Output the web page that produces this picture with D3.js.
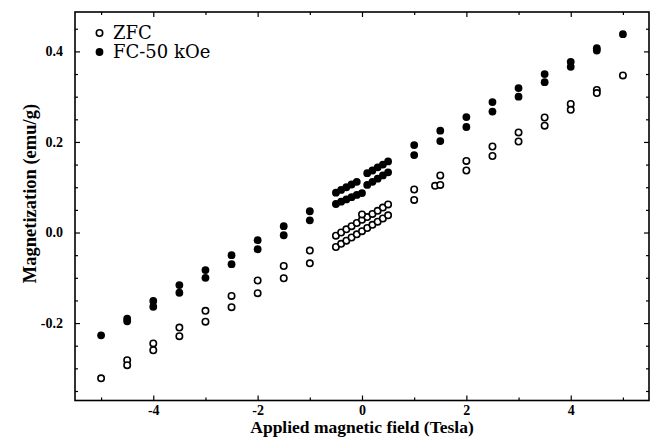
<!DOCTYPE html>
<html>
<head>
<meta charset="utf-8">
<script src="https://cdn.jsdelivr.net/npm/d3@7"></script>
<style>
  html, body { margin: 0; padding: 0; background: #fff; }
  svg { display: block; }
  .tick-label { font-family: "Liberation Serif", "Times New Roman", serif; font-weight: bold; font-size: 14px; fill: #000; }
  .axis-title { font-family: "Liberation Serif", "Times New Roman", serif; font-weight: bold; font-size: 17.5px; fill: #000; }
  .legend-text { font-family: "DejaVu Serif", serif; font-size: 18px; fill: #000; }
</style>
</head>
<body>
<svg id="chart" width="653" height="437"></svg>
<script>
// ---- Data ----
const fieldZFC = [-5, -4.5, -4.5, -4, -4, -3.5, -3.5, -3, -3, -2.5, -2.5, -2, -2, -1.5, -1.5, -1, -1,
  -0.5, -0.4, -0.3, -0.2, -0.1, 0.0, 0.1, 0.2, 0.3, 0.4, 0.5,
  -0.5, -0.4, -0.3, -0.2, -0.1, 0.0, 0.1, 0.2, 0.3, 0.4, 0.5,
  0.0,
  1, 1, 1.4, 1.5, 1.5, 2, 2, 2.5, 2.5, 3, 3, 3.5, 3.5, 4, 4, 4.5, 4.5, 5];
const magZFC = [-0.322, -0.282, -0.293, -0.245, -0.260, -0.210, -0.229, -0.173, -0.197, -0.140, -0.165, -0.106, -0.134, -0.074, -0.101, -0.040, -0.068,
  -0.032, -0.025, -0.018, -0.011, -0.004, 0.003, 0.010, 0.017, 0.024, 0.031, 0.038,
  -0.007, 0.000, 0.007, 0.014, 0.021, 0.028, 0.034, 0.041, 0.048, 0.055, 0.062,
  0.040,
  0.095, 0.072, 0.103, 0.126, 0.105, 0.158, 0.137, 0.190, 0.169, 0.221, 0.201, 0.254, 0.236, 0.284, 0.271, 0.315, 0.308, 0.347];

const fieldFC = [-5, -4.5, -4.5, -4, -4, -3.5, -3.5, -3, -3, -2.5, -2.5, -2, -2, -1.5, -1.5, -1, -1,
  -0.5, -0.4, -0.3, -0.2, -0.1,
  -0.5, -0.4, -0.3, -0.2, -0.1, 0.0,
  0.1, 0.2, 0.3, 0.4, 0.5,
  0.1, 0.2, 0.3, 0.4, 0.5,
  1, 1, 1.5, 1.5, 2, 2, 2.5, 2.5, 3, 3, 3.5, 3.5, 4, 4, 4.5, 4.5, 5];
const magFC = [-0.227, -0.190, -0.196, -0.151, -0.164, -0.116, -0.133, -0.083, -0.100, -0.050, -0.070, -0.017, -0.037, 0.014, -0.006, 0.047, 0.027,
  0.088, 0.094, 0.100, 0.106, 0.112,
  0.063, 0.068, 0.073, 0.078, 0.083, 0.087,
  0.131, 0.137, 0.144, 0.150, 0.157,
  0.105, 0.112, 0.119, 0.126, 0.133,
  0.193, 0.171, 0.225, 0.202, 0.255, 0.233, 0.288, 0.267, 0.319, 0.300, 0.350, 0.332, 0.377, 0.366, 0.407, 0.402, 0.438];

const xMajorTicks = [-4, -2, 0, 2, 4];
const xMinorTicks = [-5, -3, -1, 1, 3, 5];
const yMajorTicks = [-0.2, 0.0, 0.2, 0.4];
const yMinorTicks = [-0.35, -0.3, -0.25, -0.15, -0.1, -0.05, 0.05, 0.1, 0.15, 0.25, 0.3, 0.35, 0.45];
const legendLabels = ["ZFC", "FC-50 kOe"];
const xTitle = "Applied magnetic field (Tesla)";
const yTitle = "Magnetization (emu/g)";

// ---- Layout ----
const pLeft = 75, pRight = 649, pTop = 12, pBottom = 400.5;
const svg = d3.select("#chart");

const x = d3.scaleLinear().domain([-5.5, 5.5]).range([pLeft, pRight]);
const y = d3.scaleLinear().domain([-0.371, 0.487]).range([pBottom, pTop]);

const fmtY = d => d3.format(".1f")(d).replace("\u2212", "-");
const fmtX = d => String(d);

// Axes (ticks pointing inward on all four sides)
function addAxis(axisGen, transform, showLabels) {
  const g = svg.append("g").attr("transform", transform).call(axisGen);
  g.select(".domain").remove();
  g.selectAll(".tick line").attr("stroke", "#000").attr("stroke-width", 1.2);
  if (!showLabels) g.selectAll(".tick text").remove();
  else g.selectAll(".tick text").attr("class", "tick-label").attr("fill", "#000");
  g.attr("font-family", null).attr("font-size", null);
  return g;
}

// bottom
addAxis(d3.axisBottom(x).tickValues(xMajorTicks).tickFormat(fmtX).tickSizeInner(-5).tickSizeOuter(0).tickPadding(5), `translate(0,${pBottom})`, true);
addAxis(d3.axisBottom(x).tickValues(xMinorTicks).tickSizeInner(-3).tickSizeOuter(0).tickFormat(() => ""), `translate(0,${pBottom})`, false);
// top
addAxis(d3.axisTop(x).tickValues(xMajorTicks).tickSizeInner(-5).tickSizeOuter(0).tickFormat(() => ""), `translate(0,${pTop})`, false);
addAxis(d3.axisTop(x).tickValues(xMinorTicks).tickSizeInner(-3).tickSizeOuter(0).tickFormat(() => ""), `translate(0,${pTop})`, false);
// left
addAxis(d3.axisLeft(y).tickValues(yMajorTicks).tickFormat(fmtY).tickSizeInner(-5).tickSizeOuter(0).tickPadding(12), `translate(${pLeft},0)`, true);
addAxis(d3.axisLeft(y).tickValues(yMinorTicks).tickSizeInner(-3).tickSizeOuter(0).tickFormat(() => ""), `translate(${pLeft},0)`, false);
// right
addAxis(d3.axisRight(y).tickValues(yMajorTicks).tickSizeInner(-5).tickSizeOuter(0).tickFormat(() => ""), `translate(${pRight},0)`, false);
addAxis(d3.axisRight(y).tickValues(yMinorTicks).tickSizeInner(-3).tickSizeOuter(0).tickFormat(() => ""), `translate(${pRight},0)`, false);

// Frame
svg.append("rect")
  .attr("x", pLeft).attr("y", pTop)
  .attr("width", pRight - pLeft).attr("height", pBottom - pTop)
  .attr("fill", "none").attr("stroke", "#000").attr("stroke-width", 1.6);

// Axis titles
svg.append("text").attr("class", "axis-title")
  .attr("x", x(0)).attr("y", 433)
  .attr("text-anchor", "middle").text(xTitle);
svg.append("text").attr("class", "axis-title")
  .attr("transform", `translate(36,${y(0.086)}) rotate(-90)`)
  .attr("text-anchor", "middle").style("font-size", "18.5px").text(yTitle);

// Data points
const zfc = fieldZFC.map((f, i) => ({ f, m: magZFC[i] }));
const fc = fieldFC.map((f, i) => ({ f, m: magFC[i] }));

svg.append("g").selectAll("circle").data(zfc).join("circle")
  .attr("cx", d => x(d.f)).attr("cy", d => y(d.m)).attr("r", 3.2)
  .attr("fill", "#fff").attr("stroke", "#000").attr("stroke-width", 1.6);

svg.append("g").selectAll("circle").data(fc).join("circle")
  .attr("cx", d => x(d.f)).attr("cy", d => y(d.m)).attr("r", 3.9)
  .attr("fill", "#000");

// Legend
const leg = svg.append("g");
leg.append("circle").attr("cx", 99.5).attr("cy", 33).attr("r", 3.2)
  .attr("fill", "#fff").attr("stroke", "#000").attr("stroke-width", 1.6);
leg.append("text").attr("class", "legend-text").attr("x", 113).attr("y", 38.5).text(legendLabels[0]);
leg.append("circle").attr("cx", 99.5).attr("cy", 52).attr("r", 3.9).attr("fill", "#000");
leg.append("text").attr("class", "legend-text").attr("x", 113).attr("y", 57.5).text(legendLabels[1]);
</script>
</body>
</html>
